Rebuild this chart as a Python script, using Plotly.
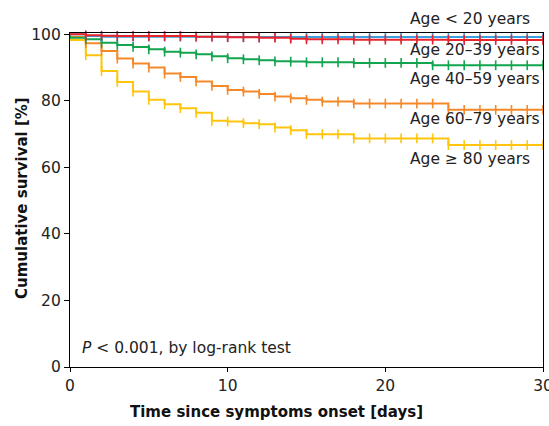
import plotly.graph_objects as go

# ---- data ----
days = list(range(0, 31))

age_lt20 = [100.0, 99.5, 99.3, 99.3, 99.3, 99.3, 99.3, 99.3, 99.3, 99.3, 99.2,
            99.2, 99.2, 99.2, 99.2, 99.2, 99.2, 99.2, 99.2, 99.2, 99.2,
            99.2, 99.2, 99.2, 99.2, 99.2, 99.2, 99.2, 99.2, 99.2, 99.2]
age_20_39 = [100.0, 99.7, 99.6, 99.5, 99.5, 99.5, 99.5, 99.5, 99.3, 99.3, 99.1,
             99.1, 99.0, 99.0, 98.7, 98.5, 98.5, 98.5, 98.4, 98.4, 98.4,
             98.4, 98.4, 98.4, 98.3, 98.3, 98.3, 98.3, 98.3, 98.3, 98.3]
age_40_59 = [99.0, 98.5, 97.5, 96.8, 96.2, 95.5, 94.8, 94.5, 94.0, 93.4, 92.8,
             92.5, 92.2, 91.9, 91.8, 91.6, 91.6, 91.6, 91.4, 91.4, 91.4,
             91.4, 91.4, 90.7, 90.7, 90.7, 90.7, 90.7, 90.7, 90.7, 90.7]
age_60_79 = [99.2, 97.3, 95.0, 92.7, 91.2, 90.0, 88.2, 87.2, 85.8, 84.5, 83.3,
             82.8, 82.1, 81.3, 80.8, 80.3, 79.8, 79.8, 79.2, 79.2, 79.2,
             79.2, 79.2, 79.2, 77.3, 77.3, 77.3, 77.3, 77.3, 77.3, 77.3]
age_ge80 = [98.3, 93.7, 89.0, 85.7, 82.8, 80.3, 79.0, 77.8, 76.4, 74.0, 73.8,
            73.3, 73.0, 72.0, 71.2, 70.0, 70.0, 70.0, 68.7, 68.7, 68.7,
            68.7, 68.7, 68.7, 66.7, 66.7, 66.7, 66.7, 66.7, 66.7, 66.7]

group_labels = ["Age < 20 years", "Age 20\u201339 years", "Age 40\u201359 years",
                "Age 60\u201379 years", "Age \u2265 80 years"]
group_series = [age_lt20, age_20_39, age_40_59, age_60_79, age_ge80]
group_colors = ["#3a9fdc", "#e8232b", "#12a44e", "#f5892a", "#ffc50d"]

x_ticks = [0, 10, 20, 30]
y_ticks = [0, 20, 40, 60, 80, 100]

FONT = "DejaVu Sans"

# plot area in window pixels: left 70, right 543, top 33, bottom 367
W, H = 549, 426
PL, PR, PT, PB = 70, 543, 33, 367


def px_to_paper(xp, yp):
    return (xp - PL) / (PR - PL), (PB - yp) / (PB - PT)


fig = go.Figure()

draw_order = [4, 3, 2, 0, 1]
for i in draw_order:
    vals = group_series[i]
    fig.add_trace(go.Scatter(
        x=[0] + days, y=[100] + vals,
        mode="lines", line=dict(color=group_colors[i], width=2, shape="hv"),
        hoverinfo="skip", showlegend=False))
    fig.add_trace(go.Scatter(
        x=days[1:], y=vals[1:], mode="markers",
        marker=dict(symbol="line-ns-open", size=7, color=group_colors[i],
                    line=dict(color=group_colors[i], width=1.6)),
        hoverinfo="skip", showlegend=False, cliponaxis=False))

label_px_y = [19.5, 49.5, 79, 119, 158.5]
annotations = []
for lab, yp in zip(group_labels, label_px_y):
    px, py = px_to_paper(408, yp)
    annotations.append(dict(x=px, y=py, xref="paper", yref="paper", text=lab,
                            showarrow=False, xanchor="left", yanchor="middle",
                            font=dict(family=FONT, size=15.5, color="#222")))
px, py = px_to_paper(80, 347.5)
annotations.append(dict(x=px, y=py, xref="paper", yref="paper",
                        text="<i>P</i> < 0.001, by log-rank test",
                        showarrow=False, xanchor="left", yanchor="middle",
                        font=dict(family=FONT, size=15.5, color="#222")))
px, py = px_to_paper(276, 412)
annotations.append(dict(x=px, y=py, xref="paper", yref="paper",
                        text="<b>Time since symptoms onset [days]</b>",
                        showarrow=False, xanchor="center", yanchor="middle",
                        font=dict(family=FONT, size=15, color="#111")))
px, py = px_to_paper(22, 198)
annotations.append(dict(x=px, y=py, xref="paper", yref="paper",
                        text="<b>Cumulative survival [%]</b>", textangle=-90,
                        showarrow=False, xanchor="center", yanchor="middle",
                        font=dict(family=FONT, size=15, color="#111")))

fig.update_layout(
    width=W, height=H,
    margin=dict(l=PL, r=W - PR, t=PT, b=H - PB, autoexpand=False),
    paper_bgcolor="white", plot_bgcolor="white",
    annotations=annotations,
    xaxis=dict(range=[0, 30], tickvals=x_ticks, showgrid=False, zeroline=False,
               showline=True, linecolor="black", linewidth=1.3, mirror=True,
               ticks="outside", ticklen=4, tickcolor="black", tickwidth=1.2,
               ticklabeloverflow="allow", automargin=False,
               tickfont=dict(family=FONT, size=15.5, color="#222")),
    yaxis=dict(range=[0, 100.4], tickvals=y_ticks, showgrid=False, zeroline=False,
               showline=True, linecolor="black", linewidth=1.3, mirror=True,
               ticks="outside", ticklen=5, tickcolor="black", tickwidth=1.2,
               automargin=False,
               tickfont=dict(family=FONT, size=15.5, color="#222")),
)

fig.write_html(
    "out.html",
    config={"displayModeBar": False},
    post_script="document.body.style.margin='0';document.body.style.overflow='hidden';",
)
